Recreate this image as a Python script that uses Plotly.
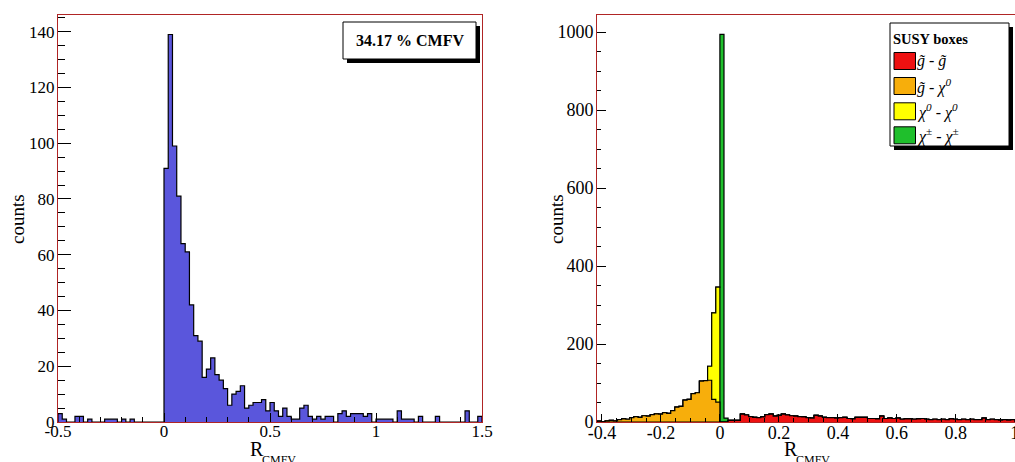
import plotly.graph_objects as go

# ---------------- data ----------------
# Left histogram: 100 bins of width 0.02 from -0.5 to 1.5
left_start = -0.5
left_width = 0.02
left_counts = [3, 1, 0, 0, 2, 2, 0, 1, 0, 0, 0, 1, 1, 1, 0, 1, 0, 1, 0, 0, 0, 0, 0, 0, 0,
               91, 139, 99, 81, 64, 61, 42, 31, 29, 16, 19, 23, 17, 15, 12, 6, 10, 11, 13, 5,
               6, 7, 7, 8, 4, 7, 4, 2, 5, 2, 1, 1, 5, 6, 2, 1, 2, 1, 2, 2,
               0, 3, 4, 2, 3, 3, 3, 2, 3, 0, 1, 1, 1, 1, 0, 4, 1, 1, 1, 0,
               2, 0, 0, 0, 2, 0, 0, 0, 0, 0, 0, 4, 0, 0, 2]
left_box_text = "34.17 % CMFV"

# Right histogram: bins of width 1/72 from -30/72 to 72/72
right_nbins = 102
right_start = -30 / 72
right_width = 1 / 72
# each series: (first bin index, counts)
red_first, red_counts = 32, [4, 4, 4, 20, 18, 14, 12, 11, 13, 19, 20, 15, 17, 20, 18, 16, 15, 14,
                             13, 11, 10, 17, 15, 12, 11, 11, 10, 11, 12, 9, 8, 12, 12, 12, 9, 9,
                             8, 15, 9, 10, 9, 10, 7, 8, 8, 7, 8, 9, 7, 6, 7, 6, 7, 6, 8, 7, 6, 7,
                             6, 7, 6, 6, 10, 6, 7, 6, 5, 6, 5, 6]
orange_first, orange_counts = 0, [2, 1, 3, 4, 3, 6, 8, 7, 11, 14, 12, 16, 15, 19, 21, 20, 24, 22,
                                  29, 38, 40, 56, 58, 73, 75, 105, 106, 107, 58, 51]
yellow_first, yellow_counts = 27, [36, 222, 295]
green_first, green_counts = 30, [994, 10]

series_names = ["g̃ - g̃", "g̃ - χ0", "χ0 - χ0", "χ± - χ±"]
series_colors = ["#ee1111", "#f7ae0b", "#ffff00", "#1fbf2c"]

left_xticks = [-0.5, 0, 0.5, 1, 1.5]
left_xtext = ["-0.5", "0", "0.5", "1", "1.5"]
left_yticks = [0, 20, 40, 60, 80, 100, 120, 140]
right_xticks = [-0.4, -0.2, 0, 0.2, 0.4, 0.6, 0.8, 1]
right_xtext = ["-0.4", "-0.2", "0", "0.2", "0.4", "0.6", "0.8", "1"]
right_yticks = [0, 200, 400, 600, 800, 1000]

# ---------------- helpers ----------------
W, H = 1015, 462
FONT = "Liberation Serif"
FRAME = "#b02525"


def px(x):
    return x / W


def py(y):
    return 1 - y / H


def step_xy(start, width, values):
    n = len(values)
    edges = [start + i * width for i in range(n + 1)]
    xs = [edges[0]] + edges[:n] + [edges[n], edges[n]]
    ys = [0] + list(values) + [values[-1], 0]
    return xs, ys


def full(first, counts):
    arr = [0] * right_nbins
    for i, c in enumerate(counts):
        arr[first + i] = c
    return arr


fig = go.Figure()

# left histogram
lx, ly = step_xy(left_start, left_width, left_counts)
fig.add_trace(go.Scatter(x=lx, y=ly, mode="lines", line=dict(shape="hv", color="black", width=1.2),
                         fill="tozeroy", fillcolor="#5a56dc", xaxis="x", yaxis="y",
                         showlegend=False, hoverinfo="skip"))

# right stacked histogram (bottom -> top: red, orange, yellow, green)
layers = [full(red_first, red_counts), full(orange_first, orange_counts),
          full(yellow_first, yellow_counts), full(green_first, green_counts)]
cum = []
run = [0] * right_nbins
for lay in layers:
    run = [a + b for a, b in zip(run, lay)]
    cum.append(run)
# draw top cumulative first
for idx in reversed(range(len(layers))):
    rx, ry = step_xy(right_start, right_width, cum[idx])
    fig.add_trace(go.Scatter(x=rx, y=ry, mode="lines", line=dict(shape="hv", color="black", width=1.2),
                             fill="tozeroy", fillcolor=series_colors[idx], name=series_names[idx],
                             xaxis="x2", yaxis="y2", showlegend=False, hoverinfo="skip"))


def axis(**kw):
    d = dict(showgrid=False, zeroline=False, showline=True, linecolor=FRAME, linewidth=1,
             mirror=True, ticks="inside", tickcolor="black", automargin=False)
    d.update(kw)
    return d


f17 = dict(family=FONT, size=17, color="black")
f18 = dict(family=FONT, size=18, color="black")

fig.update_layout(
    width=W, height=H, margin=dict(l=0, r=0, t=0, b=0),
    paper_bgcolor="white", plot_bgcolor="white",
    xaxis=axis(domain=[px(58), px(482)], range=[-0.5, 1.5], tickmode="array",
               tickvals=left_xticks, ticktext=left_xtext, ticklen=9, tickfont=f17,
               ticklabelstandoff=-6,
               minor=dict(tickmode="linear", tick0=0, dtick=0.1, ticklen=5, ticks="inside",
                          tickcolor="black"),
               anchor="y"),
    yaxis=axis(domain=[py(422), py(15)], range=[0, 146], tickmode="array",
               tickvals=left_yticks, ticklen=13, tickfont=f17, ticklabelstandoff=-1,
               minor=dict(tickmode="linear", tick0=0, dtick=5, ticklen=6.5, ticks="inside",
                          tickcolor="black"),
               anchor="x"),
    xaxis2=axis(domain=[px(597), 1.0], range=[right_start, 1.0005], tickmode="array",
                tickvals=right_xticks, ticktext=right_xtext, ticklen=8, tickfont=f18,
                ticklabelstandoff=-6, ticklabeloverflow="allow",
                minor=dict(tickmode="linear", tick0=0, dtick=0.05, ticklen=4, ticks="inside",
                           tickcolor="black"),
                anchor="y2"),
    yaxis2=axis(domain=[py(422), py(15)], range=[0, 1043.7], tickmode="array",
                tickvals=right_yticks, ticklen=8.5, tickfont=f18, ticklabelstandoff=-1,
                minor=dict(tickmode="linear", tick0=0, dtick=50, ticklen=4.3, ticks="inside",
                           tickcolor="black"),
                anchor="x2"),
)

annotations = []
shapes = []
# axis titles
for xc in (17, 556):
    annotations.append(dict(text="counts", x=px(xc), y=py(219), xref="paper", yref="paper",
                            showarrow=False, textangle=-90,
                            font=dict(family=FONT, size=19, color="black"),
                            xanchor="center", yanchor="middle"))
for rx0 in (249, 783):
    annotations.append(dict(text="R", x=px(rx0), y=py(449), xref="paper", yref="paper",
                            showarrow=False, font=dict(family=FONT, size=20, color="black"),
                            xanchor="left", yanchor="middle", borderpad=0))
    annotations.append(dict(text="CMFV", x=px(rx0 + 12), y=py(460), xref="paper", yref="paper",
                            showarrow=False, font=dict(family=FONT, size=12, color="black"),
                            xanchor="left", yanchor="middle", borderpad=0))


def box(x0, y0, x1, y1):
    # shadow then white box
    shapes.append(dict(type="rect", xref="paper", yref="paper", x0=px(x0 + 4), x1=px(x1 + 4),
                       y0=py(y1 + 4), y1=py(y0 + 4), fillcolor="black", line=dict(width=0)))
    shapes.append(dict(type="rect", xref="paper", yref="paper", x0=px(x0), x1=px(x1),
                       y0=py(y1), y1=py(y0), fillcolor="white",
                       line=dict(color="black", width=1)))


# CMFV box
box(343, 22, 476, 59)
annotations.append(dict(text="<b>" + left_box_text + "</b>", x=px(410), y=py(40.5), xref="paper",
                        yref="paper", showarrow=False,
                        font=dict(family=FONT, size=16, color="black"),
                        xanchor="center", yanchor="middle"))

# legend box
box(890, 23, 1009, 146)
annotations.append(dict(text="<b>SUSY boxes</b>", x=px(892), y=py(38.5), xref="paper",
                        yref="paper", showarrow=False,
                        font=dict(family=FONT, size=14.5, color="black"),
                        xanchor="left", yanchor="middle", borderpad=0))
legend_labels = ["<i>g̃</i> - <i>g̃</i>",
                 "<i>g̃</i> - <i>χ<sup>0</sup></i>",
                 "<i>χ<sup>0</sup></i> - <i>χ<sup>0</sup></i>",
                 "<i>χ<sup>±</sup></i> - <i>χ<sup>±</sup></i>"]
row_centers = [61, 86, 111.3, 135.3]
for lab, col, yc in zip(legend_labels, series_colors, row_centers):
    shapes.append(dict(type="rect", xref="paper", yref="paper", x0=px(894), x1=px(915.5),
                       y0=py(yc + 8.5), y1=py(yc - 8.5), fillcolor=col,
                       line=dict(color="black", width=1)))
    annotations.append(dict(text=lab, x=px(916), y=py(yc), xref="paper", yref="paper",
                            showarrow=False, font=dict(family=FONT, size=16, color="black"),
                            xanchor="left", yanchor="middle", borderpad=0))

fig.update_layout(annotations=annotations, shapes=shapes)
fig.write_html("out.html")
